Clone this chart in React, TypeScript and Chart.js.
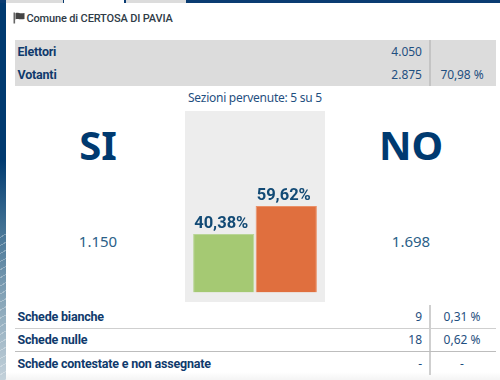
import React, { useEffect, useRef } from "react";
import { Chart, registerables } from "chart.js";

Chart.register(...registerables);

const categories = ["SI", "NO"];
const percentages = [40.38, 59.62];
const percentageLabels = ["40,38%", "59,62%"];
const voteCounts = ["1.150", "1.698"];
const barColors = ["#a5c973", "#e06f3e"];
const barBorders = ["#b9d596", "#ea9068"];
const turnoutRows = [
  ["Elettori", "4.050", ""],
  ["Votanti", "2.875", "70,98 %"],
];
const ballotRows = [
  ["Schede bianche", "9", "0,31 %"],
  ["Schede nulle", "18", "0,62 %"],
  ["Schede contestate e non assegnate", "-", "-"],
];
const title = "Comune di CERTOSA DI PAVIA";
const sections = "Sezioni pervenute: 5 su 5";

const FONT = '"Noto Sans", sans-serif';
const LABEL_FONT = 'Roboto, sans-serif';
const DARK = "#0f3a6c";
const MID = "#1f4f80";

const abs = (x: number, y: number, w: number, h: number, extra: React.CSSProperties = {}): React.CSSProperties => ({
  position: "absolute", left: x, top: y, width: w, height: h, ...extra,
});

function Text({ x, y, w, h, align = "left", size = 12, weight = 400, color = MID, font = FONT, spacing = 0, children }: any) {
  return (
    <div style={abs(x, y, w, h, { lineHeight: h + "px", textAlign: align, fontSize: size, fontWeight: weight, color, whiteSpace: "nowrap", fontFamily: font, letterSpacing: spacing })}>
      {children}
    </div>
  );
}

const labelPlugin = {
  id: "barLabels",
  afterDatasetsDraw(chart: any) {
    const { ctx } = chart;
    chart.getDatasetMeta(0).data.forEach((bar: any, i: number) => {
      ctx.save();
      ctx.font = `700 16.5px ${LABEL_FONT}`;
      ctx.fillStyle = "#124a75";
      ctx.textAlign = "center";
      ctx.textBaseline = "alphabetic";
      ctx.fillText(percentageLabels[i], bar.x - 2.5, bar.y - 6);
      ctx.restore();
    });
  },
};

export default function App() {
  const ref = useRef<HTMLCanvasElement>(null);
  useEffect(() => {
    const chart = new Chart(ref.current!, {
      type: "bar",
      data: {
        labels: categories,
        datasets: [{
          data: percentages,
          backgroundColor: barColors,
          borderColor: barBorders,
          borderWidth: 1,
          barPercentage: 1,
          categoryPercentage: 0.98,
        }],
      },
      options: {
        animation: false,
        responsive: false,
        layout: { padding: { left: 7.5, right: 7.5, top: 36.5, bottom: 9.5 } },
        plugins: { legend: { display: false }, tooltip: { enabled: false } },
        scales: {
          x: { display: false },
          y: { display: false, min: 0, max: 100 },
        },
      },
      plugins: [labelPlugin],
    });
    return () => chart.destroy();
  }, []);

  return (
    <div style={{ position: "fixed", left: 0, top: 0, width: 500, height: 380, background: "#fff", overflow: "hidden", fontFamily: FONT }}>
      {/* page frame */}
      <div style={abs(0, 0, 6, 380, { background: "linear-gradient(180deg,#003a70 0,#003a70 160px,#3f6f92 225px,#87a5b8 300px,#c3d1da 380px)" })} />
      <div style={abs(0, 230, 6, 150, { background: "repeating-linear-gradient(150deg,rgba(255,255,255,0) 0 6px,rgba(255,255,255,.3) 6px 7px)" })} />
      <div style={abs(0, 0, 500, 3, { background: "#0a3c72" })} />
      <div style={abs(6, 0, 57, 3, { background: "#dcdcdc" })} />
      <div style={abs(64, 0, 60, 3, { background: "#fff" })} />
      <div style={abs(126, 0, 60, 3, { background: "#dcdcdc" })} />
      <div style={abs(6, 372, 494, 8, { background: "linear-gradient(180deg,#fff,#f4f4f4)" })} />

      {/* title */}
      <svg style={abs(13, 12, 12, 12)} viewBox="0 0 12 12">
        <rect x="0.5" y="0.5" width="1.6" height="11" fill="#666" />
        <path d="M2.5 1.2 C5 0 6.5 2.2 11.5 1 V7 C7 8.2 5 6 2.5 7.4 Z" fill="#444" />
      </svg>
      <Text x={26.5} y={10} w={170} h={17} size={11} weight={500} color="#2f3b47" font={LABEL_FONT} spacing={-0.15}>{title}</Text>

      {/* turnout */}
      <div style={abs(15, 40, 481, 46, { background: "#dcdcdc" })} />
      <div style={abs(429, 40, 1.5, 46, { background: "#c4c4c4" })} />
      {turnoutRows.map((r, i) => (
        <React.Fragment key={r[0]}>
          <Text x={17.5} y={41 + i * 23} w={200} h={22} size={12.5} weight={700} color={DARK} font={LABEL_FONT} spacing={-0.2}>{r[0]}</Text>
          <Text x={322} y={41 + i * 23} w={100} h={22} align="right">{r[1]}</Text>
          <Text x={430} y={41 + i * 23} w={64} h={22} align="center" spacing={-0.1}>{r[2]}</Text>
        </React.Fragment>
      ))}

      <Text x={155} y={87.5} w={200} h={20} align="center" spacing={-0.25}>{sections}</Text>

      {/* SI / NO */}
      {categories.map((c, i) => (
        <React.Fragment key={c}>
          <Text x={i ? 341 : 28} y={115} w={140} h={60} align="center" size={40} weight={700} color="#003a70">{c}</Text>
          <Text x={i ? 341 : 28} y={230} w={140} h={22} align="center" size={15} color="#2b5f88">{voteCounts[i]}</Text>
        </React.Fragment>
      ))}

      {/* chart */}
      <div style={abs(185, 111, 140, 191, { background: "#ededed" })}>
        <canvas ref={ref} width={140} height={191} style={{ display: "block" }} />
      </div>

      {/* ballots */}
      <div style={abs(429, 305, 1.5, 70, { background: "#cfcfcf" })} />
      <div style={abs(15, 327.5, 481, 1.5, { background: "#cfcfcf" })} />
      <div style={abs(15, 351, 481, 1, { background: "#bdbdbd" })} />
      {ballotRows.map((r, i) => (
        <React.Fragment key={r[0]}>
          <Text x={17.5} y={305.5 + i * 23.6} w={300} h={22} size={12.5} weight={700} color={DARK} font={LABEL_FONT} spacing={-0.2}>{r[0]}</Text>
          <Text x={322} y={305.5 + i * 23.6} w={100} h={22} align="right">{r[1]}</Text>
          <Text x={431} y={305.5 + i * 23.6} w={62} h={22} align="center">{r[2]}</Text>
        </React.Fragment>
      ))}
    </div>
  );
}
